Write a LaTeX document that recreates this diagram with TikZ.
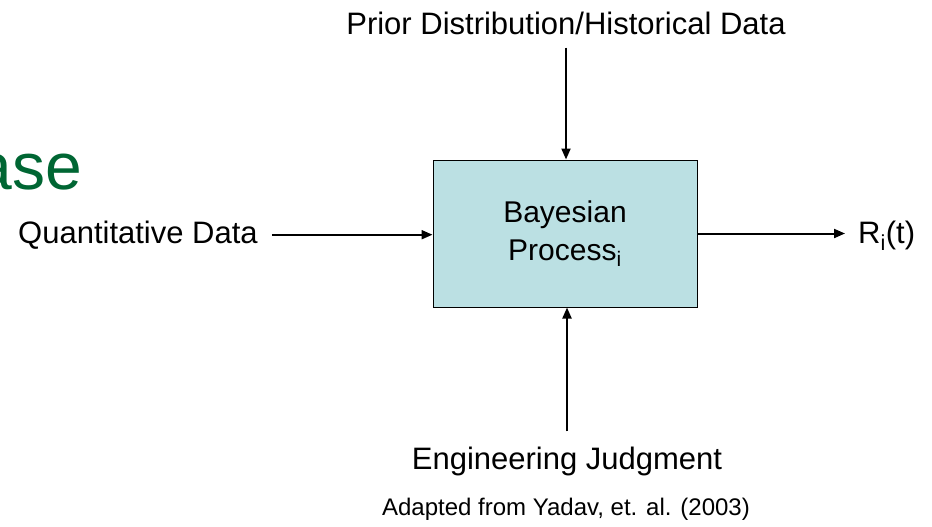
\documentclass[tikz,border=0pt]{standalone}
\usepackage{fontspec}
\setmainfont{Liberation Sans}
\usepackage{tikz}
\usetikzlibrary{arrows.meta}
\definecolor{boxfill}{RGB}{187,224,227}
\definecolor{titlegreen}{RGB}{0,102,51}

\begin{document}
\begin{tikzpicture}[x=1pt,y=-1pt,
  lbl/.style={inner sep=0pt,font=\fontsize{31}{36}\selectfont},
  arr/.style={line width=2pt,-{Triangle[length=11pt,width=9pt]}}]
\useasboundingbox (0,0) rectangle (932,527);
\node[draw,line width=1pt,fill=boxfill,minimum width=264pt,minimum height=147pt,
  align=center,font=\fontsize{30}{38}\selectfont] (bayes) at (565,233.5) {Bayesian\\Process\textsubscript{i}};
\node[lbl,anchor=base] (prior) at (566,35) {Prior Distribution/Historical Data};
\node[lbl,anchor=base west] (quant) at (18,243) {Quantitative Data};
\node[lbl,anchor=base west] (rout) at (858,243) {R\textsubscript{i}(t)};
\node[lbl,anchor=base] (eng) at (567,469) {Engineering Judgment};
\node[inner sep=0pt,anchor=base,font=\fontsize{24}{28}\selectfont] (note) at (566,515) {Adapted from Yadav, et. al. (2003)};
\node[inner sep=0pt,anchor=base east,text=titlegreen,font=\fontsize{66}{70}\selectfont] (title) at (82,189) {ase};
\draw[arr,shorten <=12pt] (prior.south) -- (prior.south |- bayes.north);
\draw[arr,shorten <=14pt] (quant.east) -- (quant.east -| bayes.west);
\draw[arr,shorten >=13pt] (bayes.east) -- (bayes.east -| rout.west);
\draw[arr,shorten <=15pt] (eng.north) -- (eng.north |- bayes.south);
\end{tikzpicture}
\end{document}
